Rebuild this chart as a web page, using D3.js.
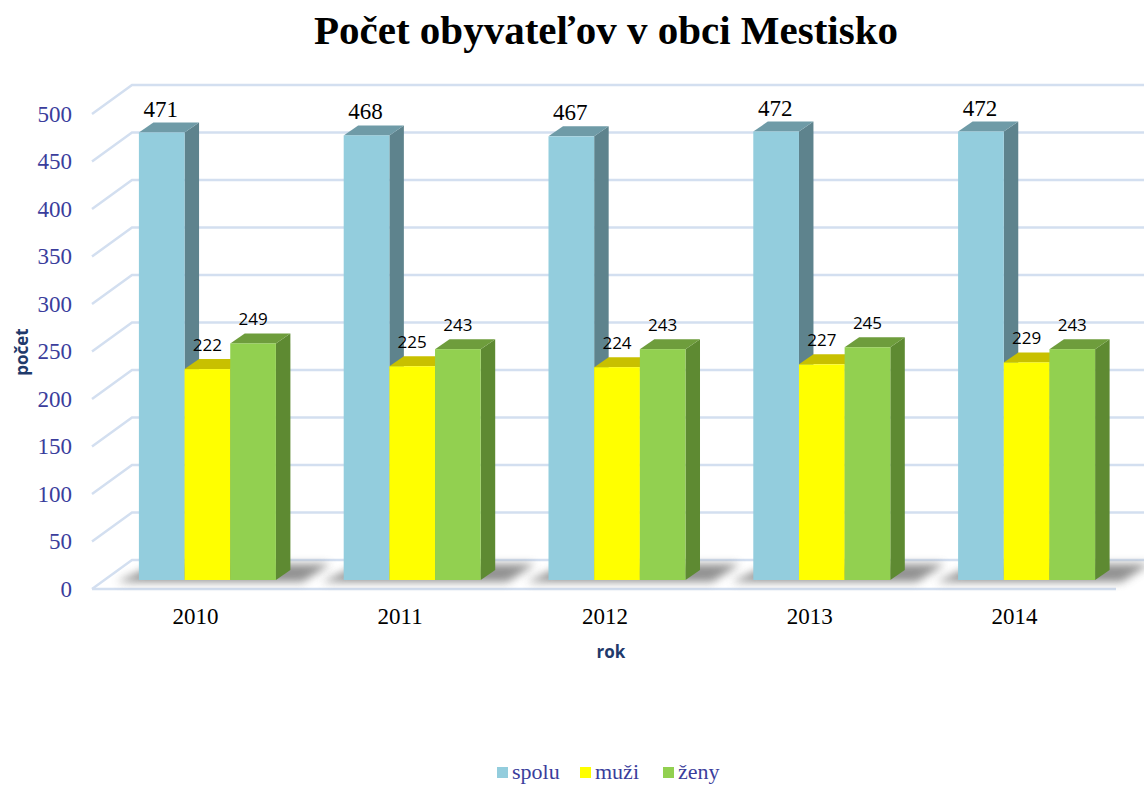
<!DOCTYPE html>
<html>
<head>
<meta charset="utf-8">
<script src="https://cdn.jsdelivr.net/npm/d3@7"></script>
<style>
  body { margin: 0; background: #fff; }
  svg { display: block; }
</style>
</head>
<body>
<div id="content"></div>
<script>
// data
const years = ["2010", "2011", "2012", "2013", "2014"];
const spolu = [471, 468, 467, 472, 472];
const muzi = [222, 225, 224, 227, 229];
const zeny = [249, 243, 243, 245, 243];
const seriesNames = ["spolu", "muži", "ženy"];
const yTicks = [0, 50, 100, 150, 200, 250, 300, 350, 400, 450, 500];

const W = 1144, H = 785;

// colours: front, top, side
const colors = {
    "spolu": ["#93CDDD", "#6F9BA7", "#5E838D"],
    "muži": ["#FFFF00", "#C8C000", "#A8A200"],
    "ženy": ["#92D050", "#6E9D3C", "#5E8A32"]
};

const series = [spolu, muzi, zeny];

// 3D offsets
const wall = {dx: 40, dy: -29};   // back wall from front plane
const barOff = {dx: 13, dy: -9};  // bar front face from front plane
const depth = {dx: 14.5, dy: -10}; // bar depth

const svg = d3.select("#content")
    .append("svg")
    .attr("width", W)
    .attr("height", H);

const defs = svg.append("defs");
defs.append("filter")
    .attr("id", "blur")
    .attr("x", "-20%").attr("y", "-100%")
    .attr("width", "140%").attr("height", "300%")
    .append("feGaussianBlur")
    .attr("stdDeviation", 4);

// scales on the front plane
const x = d3.scaleBand()
    .domain(years)
    .range([92, 1116])
    .paddingInner(0.331)
    .paddingOuter(0.1655);

const xOuter = d3.scaleBand()
    .domain(years)
    .range([92, 1116])
    .padding(0);

const xs = d3.scaleBand()
    .domain(seriesNames)
    .range([0, x.bandwidth()]);

const y = d3.scaleLinear()
    .domain([0, 500])
    .range([589, 114]);

// title
svg.append("text")
    .attr("x", 606)
    .attr("y", 44)
    .attr("text-anchor", "middle")
    .style("font-family", "'Liberation Serif', 'Times New Roman', serif")
    .style("font-weight", "bold")
    .style("font-size", "41px")
    .style("fill", "#000")
    .text("Počet obyvateľov v obci Mestisko");

// gridlines: diagonal on the side wall + horizontal on the back wall
const grid = svg.append("g")
    .attr("class", "grid")
    .style("stroke", "#D3DFF0")
    .style("stroke-width", 2.5)
    .style("fill", "none");

yTicks.forEach(function(t) {
    let yy = y(t);
    grid.append("path")
        .attr("d", "M92," + yy + " L" + (92 + wall.dx) + "," + (yy + wall.dy) + " L" + W + "," + (yy + wall.dy));
});

// front edge of the floor
grid.append("line")
    .attr("x1", 92).attr("x2", 1116)
    .attr("y1", y(0)).attr("y2", y(0));

// y tick labels
svg.append("g")
    .selectAll("text")
    .data(yTicks)
    .join("text")
    .attr("x", 72)
    .attr("y", d => y(d))
    .attr("dy", "0.33em")
    .attr("text-anchor", "end")
    .style("font-family", "'Liberation Serif', 'Times New Roman', serif")
    .style("font-size", "23px")
    .style("fill", "#3A3D9C")
    .text(d => d);

// axis titles
svg.append("text")
    .attr("transform", "translate(28,352) rotate(-90)")
    .attr("text-anchor", "middle")
    .style("font-family", "'Open Sans', 'Liberation Sans', sans-serif")
    .style("font-weight", "bold")
    .style("font-size", "17px")
    .style("fill", "#1F3A6B")
    .text("počet");

svg.append("text")
    .attr("x", 611)
    .attr("y", 658)
    .attr("text-anchor", "middle")
    .style("font-family", "'Open Sans', 'Liberation Sans', sans-serif")
    .style("font-weight", "bold")
    .style("font-size", "17px")
    .style("fill", "#1F3A6B")
    .text("rok");

// category labels
svg.append("g")
    .selectAll("text")
    .data(years)
    .join("text")
    .attr("x", d => xOuter(d) + xOuter.bandwidth() / 2 + 1)
    .attr("y", 624)
    .attr("text-anchor", "middle")
    .style("font-family", "'Liberation Serif', 'Times New Roman', serif")
    .style("font-size", "23px")
    .style("fill", "#000")
    .text(d => d);

// floor shadows
const baseY = y(0) + barOff.dy;
svg.append("g")
    .selectAll("path")
    .data(years)
    .join("path")
    .attr("d", function(d) {
        let x0 = x(d) + barOff.dx - 22;
        let x1 = x(d) + barOff.dx + x.bandwidth() + depth.dx + 12;
        return "M" + x0 + "," + (baseY + 2) + " L" + x1 + "," + (baseY + 2)
            + " L" + (x1 + 28) + "," + (baseY - 16) + " L" + (x0 + 40) + "," + (baseY - 16) + " Z";
    })
    .style("fill", "#6E6E6E")
    .style("opacity", 0.75)
    .attr("filter", "url(#blur)");

// bars
const bars = svg.append("g").attr("class", "bars");

years.forEach(function(yr, i) {
    seriesNames.forEach(function(s, j) {
        let v = series[j][i];
        let c = colors[s];
        let fx0 = x(yr) + xs(s) + barOff.dx;
        let fx1 = fx0 + xs.bandwidth();
        let fy0 = y(v) + barOff.dy;
        let fy1 = y(0) + barOff.dy;
        let g = bars.append("g");

        // side
        g.append("path")
            .attr("d", "M" + fx1 + "," + fy0 + " L" + (fx1 + depth.dx) + "," + (fy0 + depth.dy)
                + " L" + (fx1 + depth.dx) + "," + (fy1 + depth.dy) + " L" + fx1 + "," + fy1 + " Z")
            .style("fill", c[2]);

        // top
        g.append("path")
            .attr("d", "M" + fx0 + "," + fy0 + " L" + (fx0 + depth.dx) + "," + (fy0 + depth.dy)
                + " L" + (fx1 + depth.dx) + "," + (fy0 + depth.dy) + " L" + fx1 + "," + fy0 + " Z")
            .style("fill", c[1]);

        // front
        g.append("rect")
            .attr("x", fx0)
            .attr("y", fy0)
            .attr("width", xs.bandwidth())
            .attr("height", fy1 - fy0)
            .style("fill", c[0]);
    });
});

// value labels
years.forEach(function(yr, i) {
    seriesNames.forEach(function(s, j) {
        let v = series[j][i];
        let cx = x(yr) + xs(s) + barOff.dx + xs.bandwidth() / 2;
        let top = y(v) + barOff.dy + depth.dy;
        let serif = (j == 0);
        svg.append("text")
            .attr("x", serif ? cx - 1 : cx)
            .attr("y", serif ? top - 6 : top - 8)
            .attr("text-anchor", "middle")
            .style("font-family", serif ? "'Liberation Serif', 'Times New Roman', serif" : "'Open Sans', 'Liberation Sans', sans-serif")
            .style("font-size", serif ? "23px" : "17px")
            .style("fill", "#000")
            .text(v);
    });
});

// legend
const legendX = [497, 580, 663];
const legend = svg.append("g");
seriesNames.forEach(function(s, j) {
    legend.append("rect")
        .attr("x", legendX[j])
        .attr("y", 767)
        .attr("width", 11)
        .attr("height", 11)
        .style("fill", colors[s][0]);
    legend.append("text")
        .attr("x", legendX[j] + 15)
        .attr("y", 779)
        .style("font-family", "'Liberation Serif', 'Times New Roman', serif")
        .style("font-size", "22px")
        .style("fill", "#3A3D9C")
        .text(s);
});
</script>
</body>
</html>
